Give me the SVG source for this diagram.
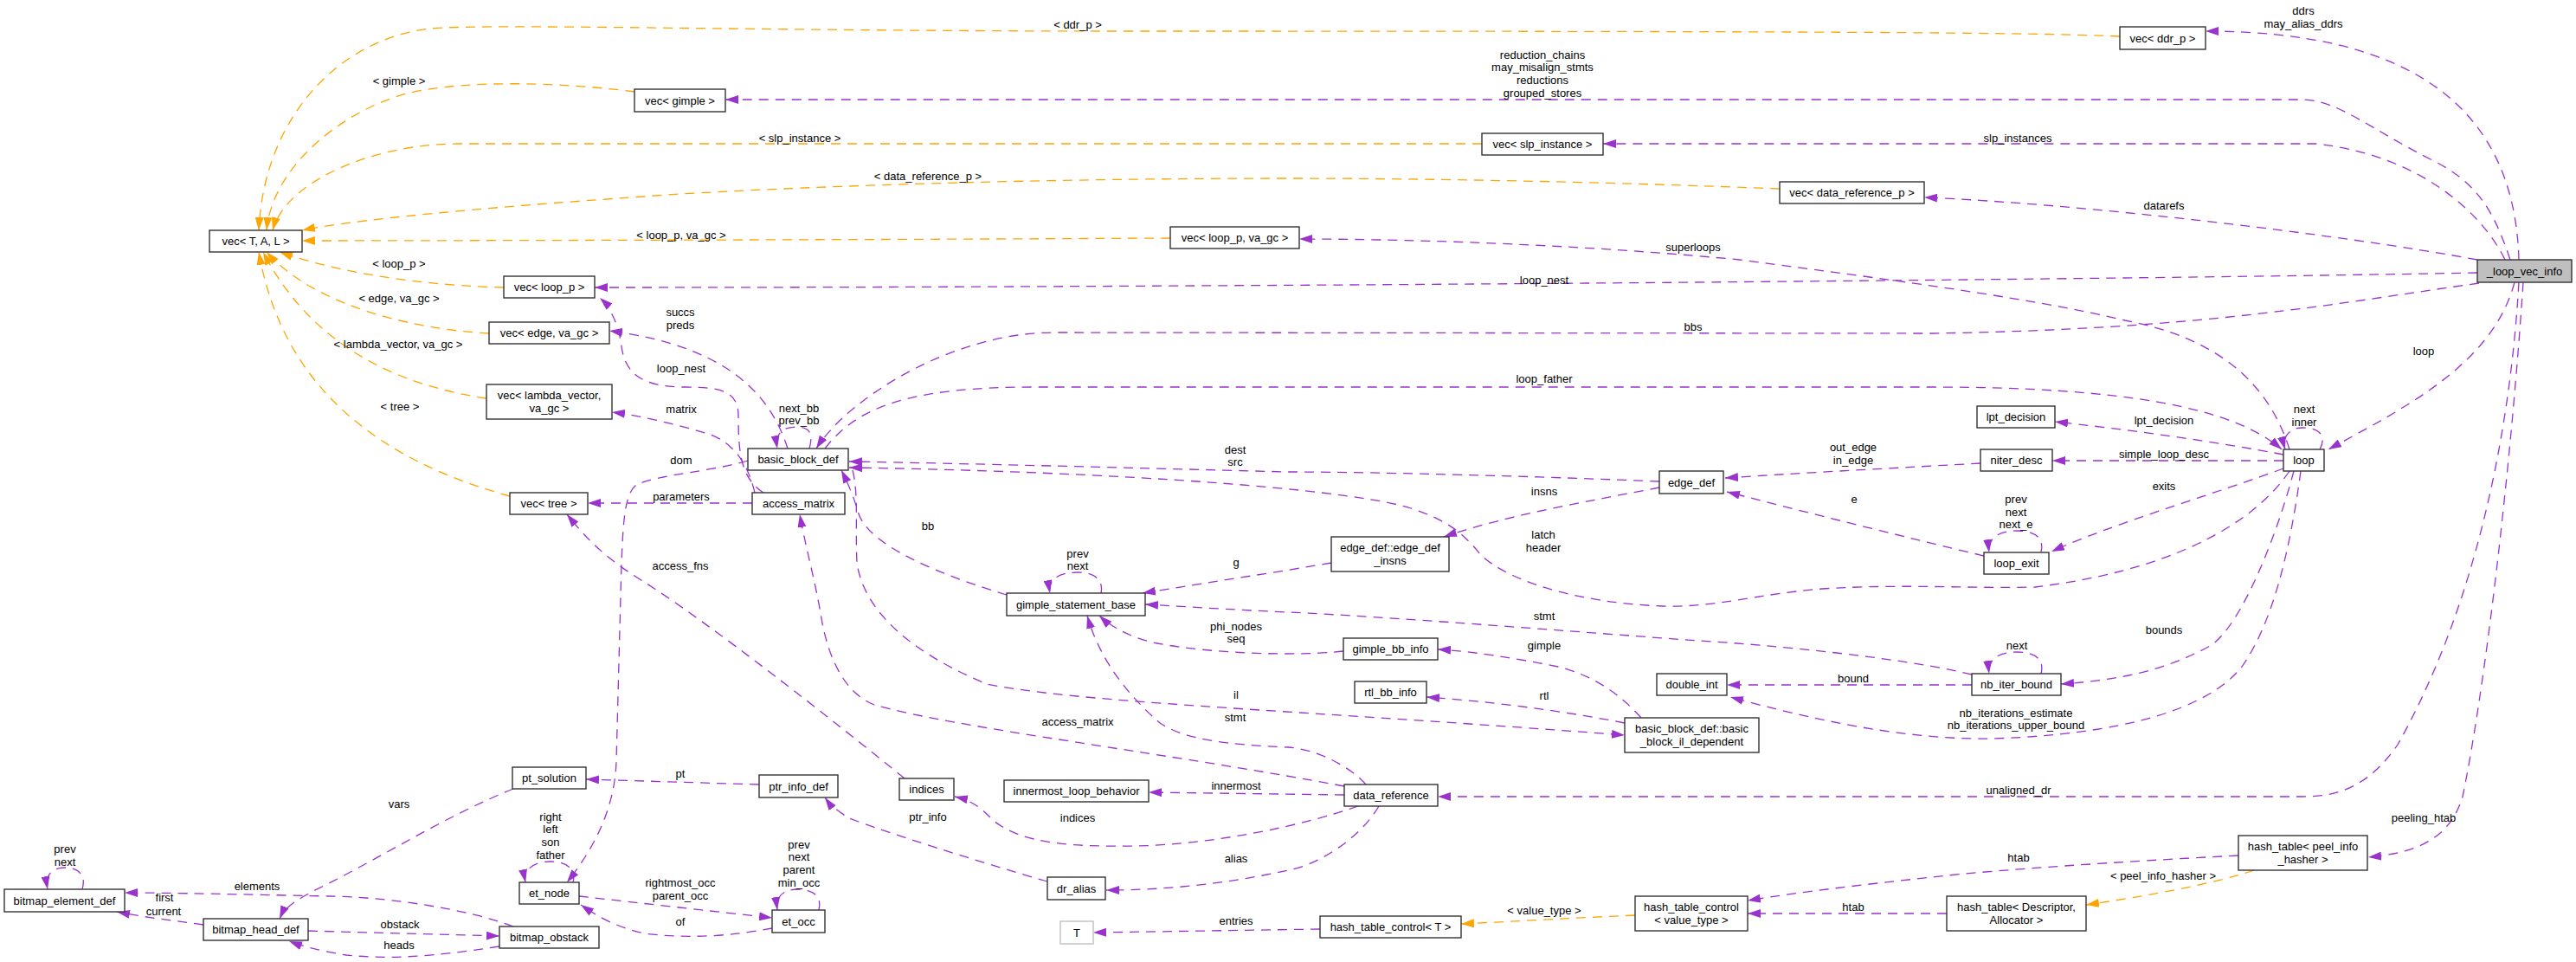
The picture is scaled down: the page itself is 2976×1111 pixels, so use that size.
<svg xmlns="http://www.w3.org/2000/svg" width="2976" height="1111" viewBox="0 0 2976 1111">
<style>
text{font-family:"Liberation Sans",Arial,sans-serif;font-size:13px;fill:#000;text-anchor:middle;dominant-baseline:central}
.n rect{fill:#fff;stroke:#333;stroke-width:1.4}
.p{fill:none;stroke:#9a32cd;stroke-width:1.3;stroke-dasharray:11,8;marker-end:url(#ap)}
.o{fill:none;stroke:#ffa500;stroke-width:1.3;stroke-dasharray:11,8;marker-end:url(#ao)}
</style>
<defs>
<marker id="ap" markerUnits="userSpaceOnUse" markerWidth="15" markerHeight="10" refX="15" refY="5" orient="auto"><path d="M0,0 L15,5 L0,10 z" fill="#9a32cd"/></marker>
<marker id="ao" markerUnits="userSpaceOnUse" markerWidth="15" markerHeight="10" refX="15" refY="5" orient="auto"><path d="M0,0 L15,5 L0,10 z" fill="#ffa500"/></marker>
</defs>
<rect width="2976" height="1111" fill="#fff"/>
<g id="edges">
<path class="o" d="M2449,42 C2350,37 2000,36 1300,36 C900,36 620,28 512,32 C400,36 305,130 299,266"/>
<text x="1245" y="28">&lt; ddr_p &gt;</text>
<path class="o" d="M733,106 C650,95 540,92 474,107 C400,125 315,190 308,266"/>
<text x="461" y="93">&lt; gimple &gt;</text>
<path class="o" d="M1712,166 L530,166 C430,166 330,210 315,266"/>
<text x="924" y="159">&lt; slp_instance &gt;</text>
<path class="o" d="M2056,218 C1800,208 1600,206 1488,206 C1100,206 800,222 744,227 C550,240 400,255 349,266"/>
<text x="1072" y="203">&lt; data_reference_p &gt;</text>
<path class="o" d="M1352,275 C1000,277 500,278 349,278"/>
<text x="787" y="271">&lt; loop_p, va_gc &gt;</text>
<path class="o" d="M582,332 C500,330 400,318 323,291"/>
<text x="461" y="304">&lt; loop_p &gt;</text>
<path class="o" d="M565,385 C470,380 360,350 308,291"/>
<text x="461" y="344">&lt; edge, va_gc &gt;</text>
<path class="o" d="M562,460 C460,445 360,400 304,291"/>
<text x="460" y="397">&lt; lambda_vector, va_gc &gt;</text>
<path class="o" d="M589,573 C470,540 330,470 299,291"/>
<text x="462" y="469">&lt; tree &gt;</text>

<path class="p" d="M2910,300 C2905,120 2780,36 2548,36"/>
<text x="2661" y="12">ddrs</text><text x="2661" y="27">may_alias_ddrs</text>
<path class="p" d="M2900,300 C2880,240 2860,210 2810,185 C2740,150 2700,115 2660,115 L838,115"/>
<text x="1782" y="63">reduction_chains</text><text x="1782" y="77">may_misalign_stmts</text><text x="1782" y="92">reductions</text><text x="1782" y="107">grouped_stores</text>
<path class="p" d="M2894,300 C2870,250 2800,180 2676,166 L1852,166"/>
<text x="2331" y="159">slp_instances</text>
<path class="p" d="M2862,300 C2700,270 2400,235 2223,228"/>
<text x="2500" y="237">datarefs</text>
<path class="p" d="M2862,315 C2500,322 1500,332 687,332"/>
<text x="1784" y="323">loop_nest</text>
<path class="p" d="M2864,327 C2700,350 2550,380 2232,385 L1218,384 C1100,384 980,460 943,518"/>
<text x="1956" y="377">bbs</text>
<path class="p" d="M2905,326 C2880,420 2780,470 2690,519"/>
<text x="2800" y="405">loop</text>
<path class="p" d="M2910,326 C2900,500 2860,700 2770,860 C2735,910 2700,920 2660,920 L1661,920"/>
<text x="2332" y="912">unaligned_dr</text>
<path class="p" d="M2915,326 C2900,550 2870,800 2845,920 C2830,970 2790,985 2736,990"/>
<text x="2800" y="944">peeling_htab</text>
<path class="p" d="M2645,519 C2620,440 2560,390 2455,370 C2350,345 2200,325 2010,300 C1800,280 1600,276 1501,276"/>
<text x="1956" y="285">superloops</text>
<path class="p" d="M953,518 C990,470 1050,447 1195,447 L2232,447 C2450,447 2580,470 2636,519"/>
<text x="1784" y="437">loop_father</text>
<path class="p" d="M2680,519 C2690,500 2675,494 2660,494 C2645,494 2636,505 2640,519"/>
<text x="2662" y="472">next</text><text x="2662" y="487">inner</text>
<path class="p" d="M935,518 C940,500 935,493 920,493 C905,493 895,500 898,518"/>
<text x="923" y="471">next_bb</text><text x="923" y="485">prev_bb</text>
<path class="p" d="M910,518 C890,455 840,400 704,382"/>
<text x="786" y="360">succs</text><text x="786" y="375">preds</text>
<path class="p" d="M882,569 C855,552 853,520 853,480 C853,450 830,447 790,447 C740,447 722,430 718,400 C715,375 705,355 693,344"/>
<text x="787" y="425">loop_nest</text>
<path class="p" d="M872,569 C865,540 850,510 815,500 C780,490 740,480 707,476"/>
<text x="787" y="472">matrix</text>
<path class="p" d="M864,532 C820,545 760,548 735,560 C722,570 720,600 718,650 L712,880 C710,930 690,975 655,1019"/>
<text x="787" y="531">dom</text>
<path class="p" d="M869,581 L679,581"/>
<text x="787" y="573">parameters</text>
<path class="p" d="M1045,899 C960,830 820,720 744,672 C700,645 680,625 655,594"/>
<text x="786" y="653">access_fns</text>
<path class="p" d="M1163,687 C1090,665 1000,630 991,590 C985,570 978,555 972,543"/>
<text x="1072" y="607">bb</text>
<path class="p" d="M985,543 C992,570 988,610 990,650 C1000,720 1080,765 1140,790 C1250,812 1500,820 1877,849"/>
<text x="1428" y="802">il</text>
<path class="p" d="M1553,908 C1350,870 1100,840 1010,814 C975,800 958,760 950,720 C942,670 930,630 924,594"/>
<text x="1245" y="833">access_matrix</text>
<path class="p" d="M1578,906 C1560,885 1520,865 1488,863 C1420,860 1370,855 1340,835 C1300,800 1270,760 1256,711"/>
<text x="1427" y="828">stmt</text>
<path class="p" d="M1552,752 C1500,758 1400,755 1337,743 C1310,738 1285,725 1270,711"/>
<text x="1428" y="723">phi_nodes</text><text x="1428" y="737">seq</text>
<path class="p" d="M1538,650 C1480,660 1400,672 1320,685"/>
<text x="1428" y="649">g</text>
<path class="p" d="M2278,779 C2200,760 2050,745 1962,740 C1800,728 1600,712 1488,707 C1420,704 1360,700 1323,698"/>
<text x="1784" y="711">stmt</text>
<path class="p" d="M1272,685 C1275,670 1265,661 1245,661 C1225,661 1210,668 1213,685"/>
<text x="1245" y="639">prev</text><text x="1245" y="653">next</text>
<path class="p" d="M1917,556 C1800,551 1600,545 1488,545 C1300,540 1100,535 981,533"/>
<text x="1427" y="519">dest</text><text x="1427" y="533">src</text>
<path class="p" d="M2645,544 C2600,610 2500,660 2351,678 C2280,680 2200,674 2105,680 C2030,686 1980,702 1920,700 C1820,696 1740,670 1710,640 C1690,615 1670,600 1630,587 C1560,565 1300,545 981,540"/>
<text x="1783" y="617">latch</text><text x="1783" y="632">header</text>
<path class="p" d="M1917,563 C1840,578 1740,595 1668,620"/>
<text x="1784" y="567">insns</text>
<path class="p" d="M2288,535 C2200,540 2100,545 1993,552"/>
<text x="2141" y="516">out_edge</text><text x="2141" y="531">in_edge</text>
<path class="p" d="M2292,642 C2200,620 2080,590 1995,568"/>
<text x="2142" y="576">e</text>
<path class="p" d="M2638,525 C2560,510 2450,495 2374,487"/>
<text x="2500" y="485">lpt_decision</text>
<path class="p" d="M2638,532 L2371,532"/>
<text x="2500" y="524">simple_loop_desc</text>
<path class="p" d="M2638,541 C2560,570 2440,605 2370,637"/>
<text x="2500" y="561">exits</text>
<path class="p" d="M2358,638 C2362,622 2352,613 2330,613 C2308,613 2296,622 2298,638"/>
<text x="2329" y="576">prev</text><text x="2329" y="591">next</text><text x="2329" y="605">next_e</text>
<path class="p" d="M2650,544 C2630,620 2590,720 2555,745 C2500,775 2450,785 2381,790"/>
<text x="2500" y="727">bounds</text>
<path class="p" d="M2658,544 C2645,640 2625,720 2590,770 C2550,820 2450,848 2303,853 C2200,855 2090,830 1999,805"/>
<text x="2329" y="823">nb_iterations_estimate</text><text x="2329" y="837">nb_iterations_upper_bound</text>
<path class="p" d="M2278,791 L1995,791"/>
<text x="2141" y="783">bound</text>
<path class="p" d="M2358,778 C2362,762 2352,753 2330,753 C2308,753 2296,762 2298,778"/>
<text x="2330" y="745">next</text>
<path class="p" d="M1896,829 C1870,800 1840,780 1800,770 C1750,760 1700,752 1661,750"/>
<text x="1784" y="745">gimple</text>
<path class="p" d="M1877,835 C1800,820 1720,810 1648,805"/>
<text x="1784" y="803">rtl</text>
<path class="p" d="M1553,918 L1327,915"/>
<text x="1428" y="907">innermost</text>
<path class="p" d="M1569,931 C1500,955 1400,975 1313,977 C1240,978 1180,975 1147,947 C1135,935 1125,925 1103,920"/>
<text x="1245" y="944">indices</text>
<path class="p" d="M1593,931 C1570,970 1520,1000 1488,1005 C1420,1020 1350,1028 1278,1028"/>
<text x="1428" y="991">alias</text>
<path class="p" d="M1210,1018 C1130,995 1020,960 981,945 C965,935 958,928 953,921"/>
<text x="1072" y="943">ptr_info</text>
<path class="p" d="M877,906 L677,900"/>
<text x="786" y="893">pt</text>
<path class="p" d="M593,911 C520,940 440,990 380,1020 C350,1035 330,1045 323,1061"/>
<text x="461" y="928">vars</text>
<path class="p" d="M235,1068 C200,1063 170,1060 135,1053"/>
<text x="190" y="1036">first</text><text x="189" y="1052">current</text>
<path class="p" d="M593,1070 C540,1050 450,1036 380,1035 C280,1033 200,1031 144,1031"/>
<text x="297" y="1023">elements</text>
<path class="p" d="M95,1027 C100,1010 90,1002 75,1002 C60,1002 52,1010 55,1027"/>
<text x="75" y="980">prev</text><text x="75" y="995">next</text>
<path class="p" d="M356,1075 C430,1077 500,1079 577,1081"/>
<text x="462" y="1067">obstack</text>
<path class="p" d="M577,1093 C500,1105 450,1108 400,1103 C370,1098 350,1093 334,1087"/>
<text x="461" y="1091">heads</text>
<path class="p" d="M662,1019 C666,1004 655,995 636,995 C617,995 604,1004 607,1019"/>
<text x="636" y="943">right</text><text x="636" y="957">left</text><text x="636" y="972">son</text><text x="636" y="987">father</text>
<path class="p" d="M669,1035 C740,1043 820,1052 892,1060"/>
<text x="786" y="1019">rightmost_occ</text><text x="786" y="1034">parent_occ</text>
<path class="p" d="M892,1072 C850,1080 800,1085 744,1078 C710,1070 690,1058 671,1045"/>
<text x="786" y="1064">of</text>
<path class="p" d="M946,1051 C950,1036 940,1027 922,1027 C904,1027 896,1036 898,1051"/>
<text x="923" y="975">prev</text><text x="923" y="989">next</text><text x="923" y="1004">parent</text><text x="923" y="1019">min_occ</text>
<path class="p" d="M1525,1073 L1263,1077"/>
<text x="1428" y="1063">entries</text>
<path class="o" d="M1889,1057 C1820,1060 1750,1064 1688,1067"/>
<text x="1784" y="1051">&lt; value_type &gt;</text>
<path class="p" d="M2249,1055 L2019,1055"/>
<text x="2141" y="1047">htab</text>
<path class="p" d="M2586,988 C2450,995 2300,1005 2232,1013 C2150,1022 2080,1030 2019,1040"/>
<text x="2332" y="990">htab</text>
<path class="o" d="M2604,1005 C2560,1020 2480,1035 2410,1045"/>
<text x="2499" y="1011">&lt; peel_info_hasher &gt;</text>
</g>
<g id="vec_ddr_p" class="n"><rect x="2449" y="31" width="99" height="26"/><text x="2498.5" y="44">vec&lt; ddr_p &gt;</text></g>
<g id="vec_gimple" class="n"><rect x="733" y="103" width="105" height="26"/><text x="785.5" y="116">vec&lt; gimple &gt;</text></g>
<g id="vec_slp_instance" class="n"><rect x="1712" y="154" width="140" height="25"/><text x="1782" y="166.5">vec&lt; slp_instance &gt;</text></g>
<g id="vec_data_reference_p" class="n"><rect x="2056" y="210" width="167" height="25"/><text x="2139.5" y="222.5">vec&lt; data_reference_p &gt;</text></g>
<g id="vec_T_A_L" class="n"><rect x="242" y="266" width="107" height="25"/><text x="295.5" y="278.5">vec&lt; T, A, L &gt;</text></g>
<g id="vec_loop_p_va_gc" class="n"><rect x="1352" y="262" width="149" height="25"/><text x="1426.5" y="274.5">vec&lt; loop_p, va_gc &gt;</text></g>
<g id="loop_vec_info" class="n"><rect x="2862" y="300" width="109" height="26" style="fill:#bfbfbf"/><text x="2916.5" y="313">_loop_vec_info</text></g>
<g id="vec_loop_p" class="n"><rect x="582" y="319" width="105" height="25"/><text x="634.5" y="331.5">vec&lt; loop_p &gt;</text></g>
<g id="vec_edge_va_gc" class="n"><rect x="565" y="372" width="139" height="25"/><text x="634.5" y="384.5">vec&lt; edge, va_gc &gt;</text></g>
<g id="vec_lambda_vector" class="n"><rect x="562" y="444" width="145" height="40"/><text x="634.5" y="456.5">vec&lt; lambda_vector,</text><text x="634.5" y="471.5">va_gc &gt;</text></g>
<g id="lpt_decision" class="n"><rect x="2284" y="469" width="90" height="25"/><text x="2329" y="481.5">lpt_decision</text></g>
<g id="basic_block_def" class="n"><rect x="864" y="518" width="116" height="25"/><text x="922" y="530.5">basic_block_def</text></g>
<g id="niter_desc" class="n"><rect x="2288" y="519" width="83" height="25"/><text x="2329.5" y="531.5">niter_desc</text></g>
<g id="loop" class="n"><rect x="2638" y="519" width="47" height="25"/><text x="2661.5" y="531.5">loop</text></g>
<g id="edge_def" class="n"><rect x="1917" y="544" width="74" height="26"/><text x="1954" y="557">edge_def</text></g>
<g id="vec_tree" class="n"><rect x="589" y="569" width="90" height="25"/><text x="634" y="581.5">vec&lt; tree &gt;</text></g>
<g id="access_matrix" class="n"><rect x="869" y="569" width="107" height="25"/><text x="922.5" y="581.5">access_matrix</text></g>
<g id="edge_def_insns" class="n"><rect x="1538" y="620" width="136" height="40"/><text x="1606" y="632.5">edge_def::edge_def</text><text x="1606" y="647.5">_insns</text></g>
<g id="loop_exit" class="n"><rect x="2292" y="638" width="75" height="25"/><text x="2329.5" y="650.5">loop_exit</text></g>
<g id="gimple_statement_base" class="n"><rect x="1163" y="685" width="160" height="26"/><text x="1243" y="698">gimple_statement_base</text></g>
<g id="gimple_bb_info" class="n"><rect x="1552" y="737" width="109" height="25"/><text x="1606.5" y="749.5">gimple_bb_info</text></g>
<g id="double_int" class="n"><rect x="1914" y="778" width="81" height="25"/><text x="1954.5" y="790.5">double_int</text></g>
<g id="nb_iter_bound" class="n"><rect x="2278" y="778" width="103" height="25"/><text x="2329.5" y="790.5">nb_iter_bound</text></g>
<g id="rtl_bb_info" class="n"><rect x="1565" y="787" width="83" height="25"/><text x="1606.5" y="799.5">rtl_bb_info</text></g>
<g id="basic_block_il_dependent" class="n"><rect x="1877" y="829" width="155" height="40"/><text x="1954.5" y="841.5">basic_block_def::basic</text><text x="1954.5" y="856.5">_block_il_dependent</text></g>
<g id="pt_solution" class="n"><rect x="592" y="886" width="85" height="25"/><text x="634.5" y="898.5">pt_solution</text></g>
<g id="ptr_info_def" class="n"><rect x="877" y="895" width="91" height="26"/><text x="922.5" y="908">ptr_info_def</text></g>
<g id="indices" class="n"><rect x="1039" y="899" width="63" height="25"/><text x="1070.5" y="911.5">indices</text></g>
<g id="innermost_loop_behavior" class="n"><rect x="1160" y="901" width="167" height="25"/><text x="1243.5" y="913.5">innermost_loop_behavior</text></g>
<g id="data_reference" class="n"><rect x="1553" y="906" width="108" height="25"/><text x="1607" y="918.5">data_reference</text></g>
<g id="hash_table_peel_info_hasher" class="n"><rect x="2586" y="965" width="149" height="40"/><text x="2660.5" y="977.5">hash_table&lt; peel_info</text><text x="2660.5" y="992.5">_hasher &gt;</text></g>
<g id="dr_alias" class="n"><rect x="1210" y="1013" width="67" height="26"/><text x="1243.5" y="1026">dr_alias</text></g>
<g id="et_node" class="n"><rect x="600" y="1019" width="69" height="25"/><text x="634.5" y="1031.5">et_node</text></g>
<g id="bitmap_element_def" class="n"><rect x="5" y="1027" width="139" height="26"/><text x="74.5" y="1040">bitmap_element_def</text></g>
<g id="hash_table_control_value_type" class="n"><rect x="1889" y="1035" width="130" height="40"/><text x="1954" y="1047.5">hash_table_control</text><text x="1954" y="1062.5">&lt; value_type &gt;</text></g>
<g id="hash_table_Descriptor_Allocator" class="n"><rect x="2249" y="1035" width="161" height="40"/><text x="2329.5" y="1047.5">hash_table&lt; Descriptor,</text><text x="2329.5" y="1062.5">Allocator &gt;</text></g>
<g id="et_occ" class="n"><rect x="892" y="1051" width="61" height="26"/><text x="922.5" y="1064">et_occ</text></g>
<g id="hash_table_control_T" class="n"><rect x="1525" y="1058" width="163" height="25"/><text x="1606.5" y="1070.5">hash_table_control&lt; T &gt;</text></g>
<g id="bitmap_head_def" class="n"><rect x="235" y="1061" width="121" height="25"/><text x="295.5" y="1073.5">bitmap_head_def</text></g>
<g id="T" class="n"><rect x="1225" y="1064" width="38" height="26" style="stroke:#bfbfbf"/><text x="1244" y="1077">T</text></g>
<g id="bitmap_obstack" class="n"><rect x="577" y="1070" width="115" height="25"/><text x="634.5" y="1082.5">bitmap_obstack</text></g>
</svg>
